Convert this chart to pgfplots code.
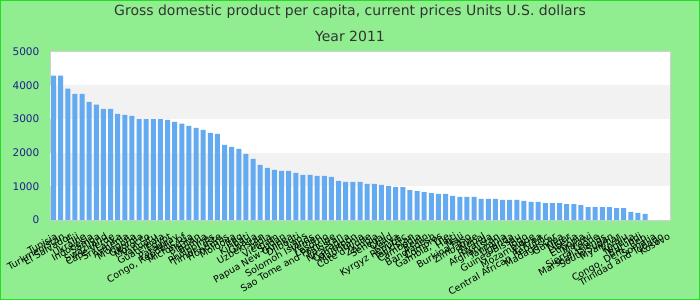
\documentclass[border=0pt]{standalone}
\usepackage{pgfplots}
\pgfplotsset{compat=1.18}
\usepackage{fontspec}
\setmainfont{DejaVu Sans}
\definecolor{bg}{HTML}{90EE90}
\definecolor{frame}{HTML}{22DD22}
\definecolor{barc}{HTML}{64AAF0}
\definecolor{band}{HTML}{F2F2F2}
\definecolor{ytk}{HTML}{1F1F8C}
\definecolor{ttl}{HTML}{333333}
\definecolor{plotb}{HTML}{D0D0D0}
\begin{document}
\begin{tikzpicture}
\useasboundingbox (0pt,0pt) rectangle (700pt,300pt);
\fill[bg] (0pt,0pt) rectangle (700pt,300pt);
\draw[frame, line width=1.2pt] (0.6pt,0.6pt) rectangle (699.4pt,299.4pt);
\node[ttl, font=\fontsize{14}{16}\selectfont] at (350pt,288pt) {Gross domestic product per capita, current prices Units U.S. dollars};
\node[ttl, font=\fontsize{14}{16}\selectfont] at (350pt,264pt) {Year 2011};
\begin{axis}[
  at={(50pt,80pt)}, anchor=south west,
  width=620pt, height=168.3pt, scale only axis,
  ybar, bar width=5pt,
  xmin=0.5, xmax=87.5, ymin=0, ymax=5000,
  enlarge x limits=false, enlarge y limits=false,
  axis background/.style={fill=white},
  axis line style={plotb, line width=0.8pt},
  major tick length=0pt,
  xtick={1,...,87},
  xticklabels={Tunisia,Turkmenistan,El Salvador,Fiji,Ukraine,Indonesia,Samoa,Swaziland,Cape Verde,Sri Lanka,Armenia,Mongolia,Georgia,Morocco,Vanuatu,Guatemala,Egypt,Paraguay,{Congo, Republic of},Micronesia,Bhutan,Bolivia,Philippines,Timor-Leste,Honduras,Moldova,Iraq,Kiribati,Ghana,Uzbekistan,India,Vietnam,Sudan,Papua New Guinea,Djibouti,Laos,Solomon Islands,Yemen,Lesotho,Sao Tome and Principe,Pakistan,Nicaragua,Cameroon,Mauritania,Cote d'Ivoire,Zambia,Senegal,Chad,Kenya,Kyrgyz Republic,Tajikistan,Cambodia,Benin,Bangladesh,Comoros,{Gambia, The},Haiti,Mali,Burkina Faso,Zimbabwe,Nepal,Rwanda,Afghanistan,Tanzania,Uganda,Guinea-Bissau,Togo,Mozambique,Eritrea,Central African Republic,Madagascar,Guinea,Niger,Liberia,Ethiopia,Malawi,Sierra Leone,Marshall Islands,South Sudan,Myanmar,Tuvalu,Nigeria,Burundi,{Congo, Dem. Rep.},Somalia,Trinidad and Tobago,Kosovo},
  xticklabel style={font=\fontsize{9.5}{9.5}\selectfont, rotate=30, anchor=north east, inner sep=0pt, xshift=-5pt, yshift=-11pt},
  ytick={0,1000,...,5000},
  scaled y ticks=false,
  yticklabel style={ytk, font=\fontsize{10.5}{10.5}\selectfont, anchor=east, inner sep=0pt, xshift=-10.5pt, /pgf/number format/assume math mode=true, /pgf/number format/1000 sep={}},
]
\fill[band] (axis cs:0.5,1000) rectangle (axis cs:87.5,2000);
\fill[band] (axis cs:0.5,3000) rectangle (axis cs:87.5,4000);
\addplot[fill=barc, draw=none] coordinates {
(1,4290) (2,4290) (3,3900) (4,3750) (5,3750) (6,3510) (7,3430) (8,3300) (9,3300) (10,3150)
(11,3120) (12,3095) (13,3000) (14,3000) (15,3000) (16,3000) (17,2975) (18,2915) (19,2860) (20,2800)
(21,2740) (22,2680) (23,2590) (24,2560) (25,2230) (26,2170) (27,2110) (28,1965) (29,1815) (30,1640)
(31,1550) (32,1490) (33,1460) (34,1460) (35,1400) (36,1340) (37,1340) (38,1310) (39,1310) (40,1280)
(41,1160) (42,1130) (43,1130) (44,1130) (45,1070) (46,1070) (47,1040) (48,1010) (49,980) (50,980)
(51,890) (52,860) (53,830) (54,800) (55,775) (56,775) (57,715) (58,685) (59,685) (60,685)
(61,625) (62,625) (63,625) (64,595) (65,595) (66,595) (67,565) (68,535) (69,535) (70,505)
(71,505) (72,505) (73,475) (74,475) (75,445) (76,385) (77,385) (78,385) (79,385) (80,355)
(81,355) (82,240) (83,210) (84,180)
};
\end{axis}
\end{tikzpicture}
\end{document}
